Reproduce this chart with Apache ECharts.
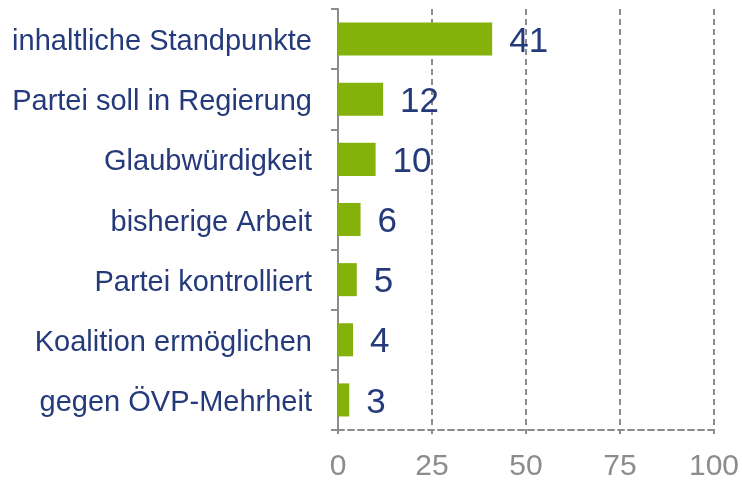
<!DOCTYPE html>
<html>
<head>
<meta charset="utf-8">
<script src="https://cdn.jsdelivr.net/npm/echarts@6/dist/echarts.min.js"></script>
<style>
  html, body { margin: 0; padding: 0; background: #fff; }
  #chart { width: 742px; height: 481px; }
</style>
</head>
<body>
<div id="chart"></div>
<script>
const categories = [
    'inhaltliche Standpunkte',
    'Partei soll in Regierung',
    'Glaubwürdigkeit',
    'bisherige Arbeit',
    'Partei kontrolliert',
    'Koalition ermöglichen',
    'gegen ÖVP-Mehrheit'
];
const values = [41, 12, 10, 6, 5, 4, 3];
const xTicks = [0, 25, 50, 75, 100];

let chartDom = document.getElementById('chart');
let myChart = echarts.init(chartDom);

const gray = '#8c8c8c';
const navy = '#253a7a';

const option = {
    animation: false,
    textStyle: {
        fontFamily: 'Liberation Sans, Arial, sans-serif'
    },
    grid: {
        left: 338,
        right: 28,
        top: 9,
        bottom: 51,
        containLabel: false,
        outerBoundsMode: 'none'
    },
    xAxis: {
        type: 'value',
        min: xTicks[0],
        max: xTicks[xTicks.length - 1],
        interval: 25,
        axisLine: {
            show: true,
            lineStyle: {color: gray, width: 2, type: [6, 4]}
        },
        axisTick: {
            show: true,
            length: 4,
            lineStyle: {color: gray, width: 2}
        },
        axisLabel: {
            color: gray,
            fontSize: 30,
            margin: 22
        },
        splitLine: {
            show: true,
            lineStyle: {color: gray, width: 2, type: [6, 4]}
        }
    },
    yAxis: {
        type: 'category',
        inverse: true,
        data: categories,
        axisLine: {
            show: true,
            lineStyle: {color: gray, width: 2}
        },
        axisTick: {
            show: true,
            length: 7,
            lineStyle: {color: gray, width: 2}
        },
        axisLabel: {
            margin: 26,
            formatter: '{a|{value}}',
            rich: {
                a: {color: navy, fontSize: 29, padding: [6, 0, 0, 0]}
            }
        }
    },
    series: [
        {
            type: 'bar',
            data: values,
            barWidth: '55%',
            itemStyle: {color: '#84b20a'},
            label: {
                show: true,
                position: 'right',
                distance: 17,
                formatter: '{a|{c}}',
                rich: {
                    a: {color: navy, fontSize: 35, padding: [6, 0, 0, 0]}
                }
            }
        }
    ]
};

myChart.setOption(option);
</script>
</body>
</html>
